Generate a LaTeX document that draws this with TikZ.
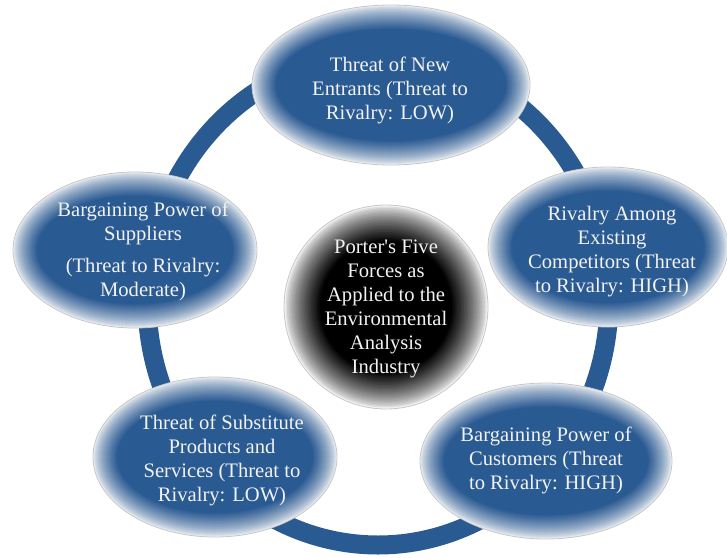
\documentclass[tikz,border=0pt]{standalone}
\usepackage{fontspec}
\setmainfont{Liberation Serif}

\definecolor{forceblue}{RGB}{42,90,146}
\definecolor{glowedge}{RGB}{236,239,243}
\definecolor{hubedge}{RGB}{244,244,244}

% soft edged ellipse: centre, x radius, y radius, core colour, edge colour, band width
\newcommand{\glowellipse}[6]{%
  \foreach \k in {0,...,24}{%
    \pgfmathsetmacro\inset{#6*\k/24}
    \pgfmathtruncatemacro\mix{round(100*(\k/24)^0.75)}
    \fill[#4!\mix!#5] (#1) ellipse [x radius=#2-\inset, y radius=#3-\inset];
  }
  \draw[black!22, line width=0.4pt] (#1) ellipse [x radius=#2, y radius=#3];
}

\tikzset{
  forcetext/.style={align=center, text=white!95!black, inner sep=0pt,
                    font=\fontsize{10.3}{12}\selectfont},
  ring/.style={draw=forceblue, line width=9.5pt}
}

\begin{document}
\begin{tikzpicture}[x=0.5pt,y=-0.5pt]
  \useasboundingbox (0,0) rectangle (727,557);

% the ring joining the forces
  \coordinate (rc) at (378,300);
  \draw[ring] (rc) ellipse [x radius=231, y radius=245];

% hub
  \coordinate (hubc) at (386,307);
  \glowellipse{hubc}{102}{102}{black}{hubedge}{36}
  \node[forcetext] (porter) at (386,309)
    {Porter\textquotesingle s Five\\ Forces as\\ Applied to the\\ Environmental\\ Analysis\\ Industry};

% the five forces, clockwise from the top
  \coordinate (entc) at (391,85);
  \coordinate (rivc) at (608,247);
  \coordinate (cusc) at (546,461);
  \coordinate (subc) at (215,457);
  \coordinate (supc) at (135,250);
  \glowellipse{entc}{139}{80}{forceblue}{glowedge}{24}
  \glowellipse{rivc}{120}{80}{forceblue}{glowedge}{24}
  \glowellipse{cusc}{126}{78}{forceblue}{glowedge}{24}
  \glowellipse{subc}{122}{80}{forceblue}{glowedge}{24}
  \glowellipse{supc}{122}{78}{forceblue}{glowedge}{24}

  \node[forcetext] (entrants) at (390,90)
    {Threat of New\\ Entrants (Threat to\\ Rivalry: LOW)};
  \node[forcetext] (rivalry) at (612,252)
    {Rivalry Among\\ Existing\\ Competitors (Threat\\ to Rivalry: HIGH)};
  \node[forcetext] (customers) at (546,460)
    {Bargaining Power of\\ Customers (Threat\\ to Rivalry: HIGH)};
  \node[forcetext] (substitutes) at (222,460)
    {Threat of Substitute\\ Products and\\ Services (Threat to\\ Rivalry: LOW)};
  \node[forcetext] (suppliers) at (143,251)
    {Bargaining Power of\\ Suppliers\\[4pt] (Threat to Rivalry:\\ Moderate)};

\end{tikzpicture}
\end{document}
